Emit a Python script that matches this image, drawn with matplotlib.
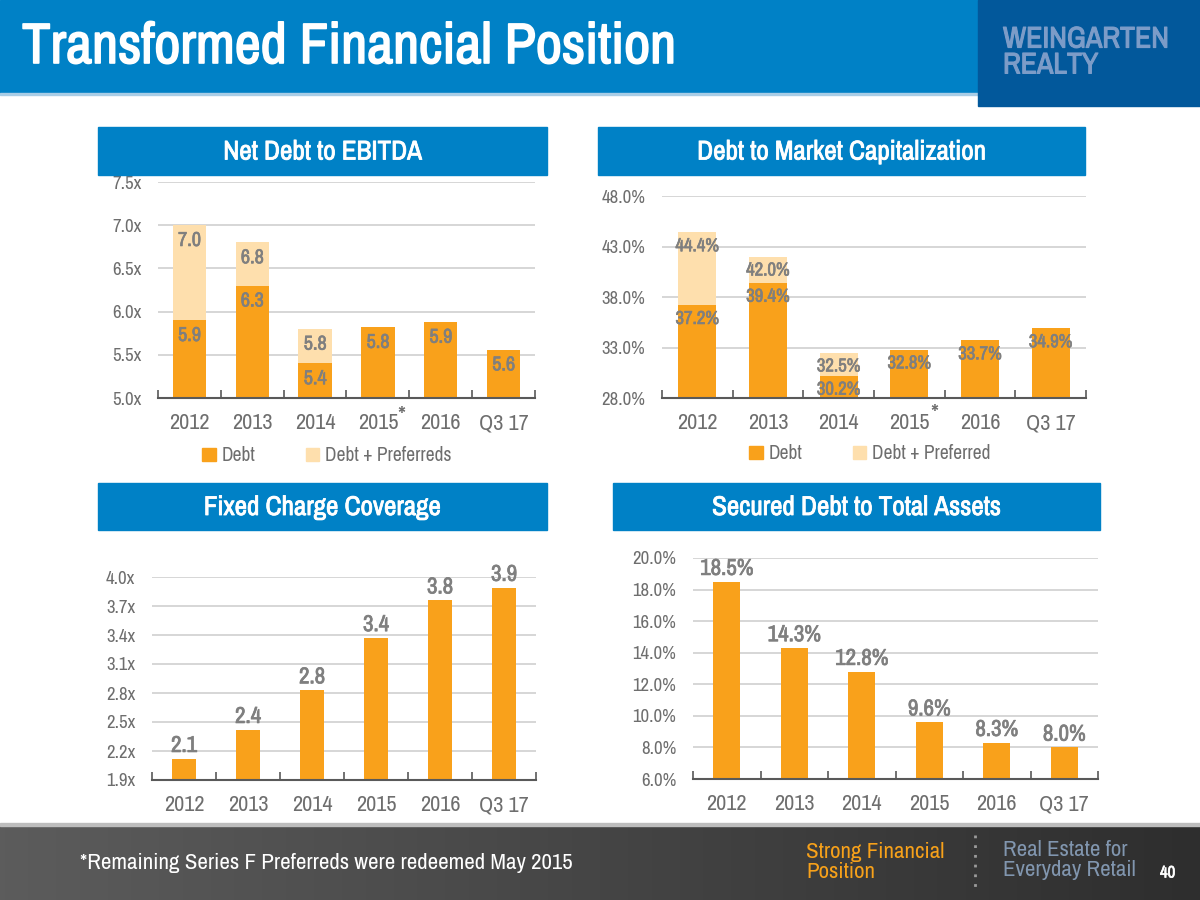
import numpy as np
import matplotlib
matplotlib.use('Agg')
import matplotlib.pyplot as plt
from matplotlib.patches import Rectangle, Patch
from matplotlib.colors import LinearSegmentedColormap
import matplotlib.transforms as mtrans
import matplotlib.patheffects as pe

plt.rcParams['font.family'] = ['Liberation Sans Narrow', 'Arial Narrow', 'Archivo Narrow', 'PT Sans Narrow',
                               'Roboto Condensed', 'Liberation Sans', 'DejaVu Sans']

# data
years = ['2012', '2013', '2014', '2015', '2016', 'Q3 17']

ebitda_debt = [5.9, 6.3, 5.4, 5.82, 5.88, 5.56]
ebitda_pref = [7.0, 6.8, 5.8]          # 2012-2014 only

mktcap_debt = [37.2, 39.4, 30.2, 32.8, 33.7, 34.9]
mktcap_pref = [44.4, 42.0, 32.5]       # 2012-2014 only

fixed_charge = [2.12, 2.42, 2.83, 3.37, 3.76, 3.89]
secured_debt = [18.5, 14.3, 12.8, 9.6, 8.3, 8.0]

ORANGE = '#F9A11B'
LIGHT = '#FEDFAD'
BLUE = '#0081C6'
LABEL_GRAY = '#7F7F7F'
TICK_GRAY = '#6E6E6E'

fig = plt.figure(figsize=(12, 9), dpi=100)


def heavy(color, w=0.5):
    # the narrow family has no bold face here, so thicken the glyphs a little with a stroke
    return [pe.withStroke(linewidth=w, foreground=color)]


def px_axes(left, top, right, bottom):
    # pixel box -> figure fraction
    return fig.add_axes([left / 1200, 1 - bottom / 900, (right - left) / 1200, (bottom - top) / 900])


def style(ax, lo, hi, ticks, fmt):
    ax.set_ylim(lo, hi)
    ax.set_xlim(-0.5, len(years) - 0.5)
    ax.set_yticks(ticks)
    ax.set_yticklabels([fmt.format(t) for t in ticks])
    ax.set_xticks(range(len(years)))
    ax.set_xticklabels(years)
    ax.set_xticks(np.arange(-0.5, len(years)), minor=True)
    ax.tick_params(axis='x', which='major', length=0, pad=11, labelsize=16, labelcolor=TICK_GRAY)
    ax.tick_params(axis='x', which='minor', direction='in', length=6, width=1.2, color='#595959')
    ax.tick_params(axis='y', length=0, pad=12, labelsize=13.5, labelcolor=TICK_GRAY)
    for s in ['top', 'right', 'left']:
        ax.spines[s].set_visible(False)
    ax.spines['bottom'].set_color('#595959')
    ax.spines['bottom'].set_linewidth(1.5)
    ax.spines['bottom'].set_zorder(5)
    ax.grid(axis='y', color='#D3D3D3', linewidth=1.3)
    ax.set_axisbelow(True)
    ax.patch.set_alpha(0)


def star(ax, xpos, ypos):
    tr = mtrans.blended_transform_factory(ax.transData, ax.transAxes)
    ax.text(xpos, ypos, '*', transform=tr, fontsize=18, color=TICK_GRAY, ha='center', va='center')


def inside_labels(ax, vals, fmt, size, off):
    for i, v in enumerate(vals):
        ax.annotate(fmt.format(v), (i, v), xytext=(0, off), textcoords='offset points', ha='center',
                    va='center', fontsize=size, fontweight='bold', color=LABEL_GRAY, zorder=6,
                    path_effects=heavy(LABEL_GRAY, 0.45))


def top_labels(ax, vals, fmt, size):
    for i, v in enumerate(vals):
        ax.annotate(fmt.format(v), (i, v), xytext=(0, 2), textcoords='offset points', ha='center',
                    va='bottom', fontsize=size, fontweight='bold', color=LABEL_GRAY, zorder=6,
                    annotation_clip=False, path_effects=heavy(LABEL_GRAY, 0.5))


# ---- Net Debt to EBITDA
ax1 = px_axes(158, 182, 535, 398)
x = np.arange(len(years))
ax1.bar(range(len(ebitda_pref)), ebitda_pref, 0.53, color=LIGHT, zorder=2)
ax1.bar(x, ebitda_debt, 0.53, color=ORANGE, zorder=3)
style(ax1, 5.0, 7.5, np.arange(5.0, 7.51, 0.5), '{:.1f}x')
inside_labels(ax1, ebitda_pref, '{:.1f}', 14.5, -11)
inside_labels(ax1, ebitda_debt, '{:.1f}', 14.5, -11)
star(ax1, 3.37, -0.085)
ax1.legend(handles=[Patch(color=ORANGE, label='Debt'), Patch(color=LIGHT, label='Debt + Preferreds')],
           loc='center', bbox_to_anchor=(0.448, -0.268), ncol=2, frameon=False, fontsize=14,
           handlelength=0.7, handleheight=0.7, handletextpad=0.3, columnspacing=2.6, labelcolor=TICK_GRAY)

# ---- Debt to Market Capitalization
ax2 = px_axes(662, 196, 1086, 398)
ax2.bar(range(len(mktcap_pref)), mktcap_pref, 0.54, color=LIGHT, zorder=2)
ax2.bar(x, mktcap_debt, 0.54, color=ORANGE, zorder=3)
style(ax2, 28.0, 48.0, np.arange(28.0, 48.1, 5.0), '{:.1f}%')
inside_labels(ax2, mktcap_pref, '{:.1f}%', 13.5, -10)
inside_labels(ax2, mktcap_debt, '{:.1f}%', 13.5, -10)
star(ax2, 3.36, -0.08)
ax2.legend(handles=[Patch(color=ORANGE, label='Debt'), Patch(color=LIGHT, label='Debt + Preferred')],
           loc='center', bbox_to_anchor=(0.49, -0.277), ncol=2, frameon=False, fontsize=14,
           handlelength=0.7, handleheight=0.7, handletextpad=0.3, columnspacing=2.6, labelcolor=TICK_GRAY)

# ---- Fixed Charge Coverage
ax3 = px_axes(152, 577, 536, 780)
ax3.bar(x, fixed_charge, 0.39, color=ORANGE, zorder=3)
style(ax3, 1.9, 4.0, np.arange(1.9, 4.01, 0.3), '{:.1f}x')
top_labels(ax3, fixed_charge, '{:.1f}', 16.5)

# ---- Secured Debt to Total Assets
ax4 = px_axes(693, 558, 1098, 779)
ax4.bar(x, secured_debt, 0.4, color=ORANGE, zorder=3)
style(ax4, 6.0, 20.0, np.arange(6.0, 20.1, 2.0), '{:.1f}%')
top_labels(ax4, secured_debt, '{:.1f}%', 16.5)

# ---- slide decoration on an overlay in pixel coordinates
ov = fig.add_axes([0, 0, 1, 1], zorder=10)
ov.patch.set_alpha(0)
grad = np.linspace(0, 1, 256).reshape(1, -1)
cmap = LinearSegmentedColormap.from_list('foot', ['#5C5C5C', '#2E2E2E'])
ov.imshow(grad, extent=[0, 1200, 900, 826], aspect='auto', cmap=cmap, zorder=1)
ov.set_xlim(0, 1200)
ov.set_ylim(900, 0)
ov.axis('off')

ov.add_patch(Rectangle((0, 0), 1200, 93, color=BLUE, zorder=2))
ov.add_patch(Rectangle((0, 93), 978, 2, color='#A9CDE6', zorder=2))
ov.add_patch(Rectangle((978, 0), 222, 106, color='#02589B', zorder=3))
ov.add_patch(Rectangle((0, 823), 1200, 3, color='#BDBDBD', zorder=2))
ov.text(22, 47, 'Transformed Financial Position', color='white', fontsize=41, fontweight='bold',
        va='center', ha='left', zorder=4, path_effects=heavy('white', 1.2))
ov.text(1003, 52, 'WEINGARTEN\nREALTY', color='#7C9CC8', fontsize=21.5, fontweight='bold',
        va='center', ha='left', linespacing=0.95, zorder=4, path_effects=heavy('#7C9CC8', 0.8))

boxes = [(98, 127, 547, 175, 'Net Debt to EBITDA'),
         (598, 127, 1085, 175, 'Debt to Market Capitalization'),
         (98, 483, 547, 530, 'Fixed Charge Coverage'),
         (613, 483, 1100, 530, 'Secured Debt to Total Assets')]
for l, t, r, b, txt in boxes:
    ov.add_patch(Rectangle((l, t), r - l, b - t, color=BLUE, zorder=2))
    ov.text((l + r) / 2, (t + b) / 2 + 1, txt, color='white', fontsize=19.5, fontweight='bold',
            ha='center', va='center', zorder=4, path_effects=heavy('white', 0.6))

ov.text(80, 863, '*Remaining Series F Preferreds were redeemed May 2015', color='white', fontsize=16.5,
        ha='left', va='center', zorder=4)
ov.text(806, 862, 'Strong Financial\nPosition', color='#F7A11A', fontsize=16.5, ha='left', va='center',
        linespacing=1.05, zorder=4)
ov.plot([975, 975], [835, 887], color='#9A9A9A', linestyle=(0, (1, 2.5)), linewidth=2, zorder=4)
ov.text(1003, 860, 'Real Estate for\nEveryday Retail', color='#8196AF', fontsize=16.5, ha='left', va='center',
        linespacing=1.05, zorder=4)
ov.text(1160, 873, '40', color='white', fontsize=12, fontweight='bold', ha='left', va='center', zorder=4,
        path_effects=heavy('white', 0.5))

fig.savefig('out.png', dpi=100)
